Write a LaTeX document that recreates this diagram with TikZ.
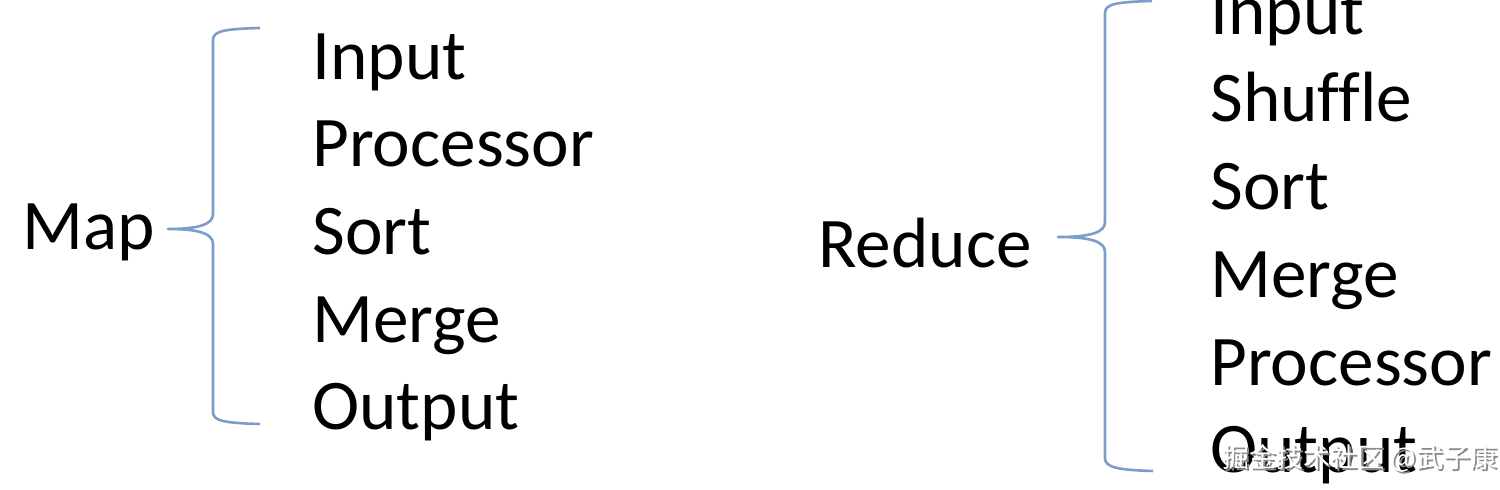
\documentclass[tikz,border=0pt]{standalone}
\usepackage{fontspec}
\setmainfont[Ligatures=NoCommon]{Carlito}
\newfontfamily\cjk{Noto Sans CJK SC}
\definecolor{bracecol}{HTML}{7B9DC9}
\definecolor{shadowcol}{HTML}{8A8A8A}
\begin{document}
\begin{tikzpicture}[x=0.5pt,y=-0.5pt,
  item/.style={anchor=base west,inner sep=0pt,font=\fontsize{35.6}{42}\selectfont},
  bracestyle/.style={draw=bracecol,line width=1.3pt,line join=round},
  wm/.style={anchor=base west,inner sep=0pt,font=\cjk\fontsize{13.5}{16}\selectfont}]
\useasboundingbox[fill=white] (0,0) rectangle (1500,490);
% left group
\node[item] (map) at (22,250) {Map};
\node[item] (lin) at (312,80) {Input};
\node[item] (lpr) at (312,167) {Processor};
\node[item] (lso) at (312,255) {Sort};
\node[item] (lme) at (312,343) {Merge};
\node[item] (lou) at (312,430) {Output};
\coordinate (ltop) at (260,28);
\coordinate (ltip) at (168,229);
\coordinate (lbot) at (260,424);
\draw[bracestyle] (ltop) .. controls (224,29) and (213,31) .. (213,40) -- (213,214)
  .. controls (213,224) and (200,229) .. (ltip)
  .. controls (200,229) and (213,234) .. (213,244) -- (213,412)
  .. controls (213,421) and (224,423) .. (lbot);
% right group
\node[item] (red) at (818,268) {Reduce};
\node[item] (rin) at (1210,35) {Input};
\node[item] (rsh) at (1210,122) {Shuffle};
\node[item] (rso) at (1210,210) {Sort};
\node[item] (rme) at (1210,298) {Merge};
\node[item] (rpr) at (1210,386) {Processor};
\node[item] (rou) at (1210,473) {Output};
\coordinate (rtop) at (1152,1);
\coordinate (rtip) at (1058,237);
\coordinate (rbot) at (1153,471);
\draw[bracestyle] (rtop) .. controls (1116,2) and (1105,4) .. (1105,13) -- (1105,222)
  .. controls (1105,232) and (1092,237) .. (rtip)
  .. controls (1092,237) and (1105,242) .. (1105,252) -- (1105,458)
  .. controls (1105,467) and (1116,470) .. (rbot);
% watermark
\node[wm,text=shadowcol] (wms) at (1224,470) {掘金技术社区 @武子康};
\node[wm,text=white] (wm) at (1222,468) {掘金技术社区 @武子康};
\end{tikzpicture}
\end{document}
